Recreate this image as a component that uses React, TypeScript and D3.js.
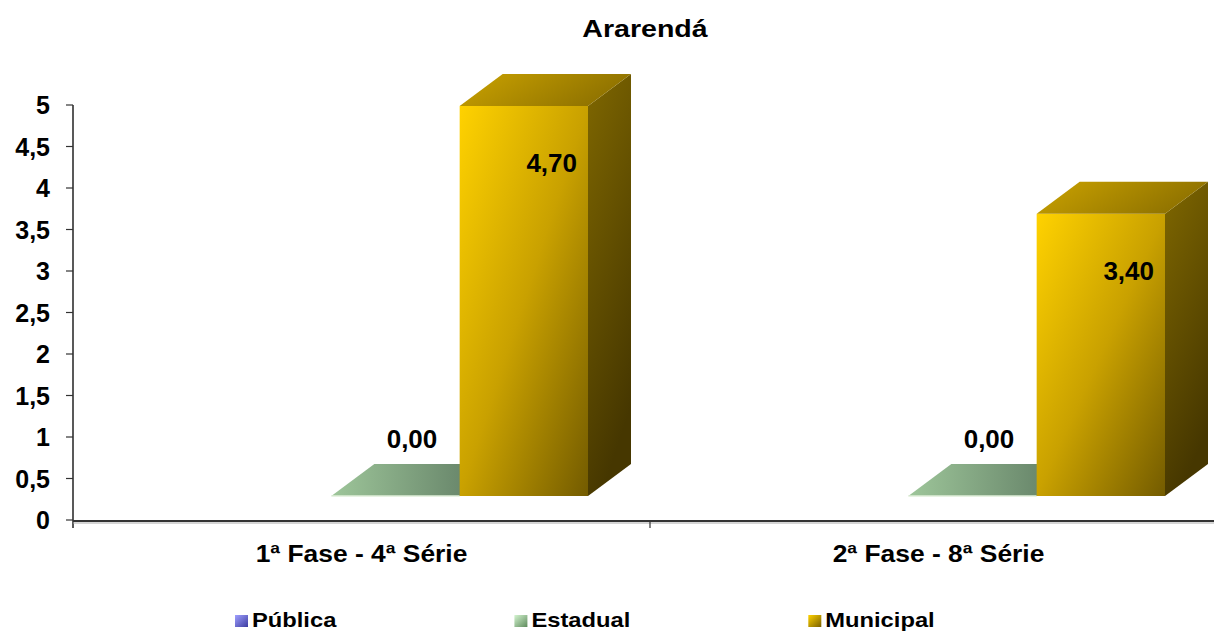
import React from "react";
import * as d3 from "d3";

const title = "Ararendá";
const categories = ["1ª Fase - 4ª Série", "2ª Fase - 8ª Série"];
const seriesNames = ["Pública", "Estadual", "Municipal"];
const publicaValues: (number | null)[] = [null, null];
const estadualValues: (number | null)[] = [0, 0];
const municipalValues: (number | null)[] = [4.7, 3.4];
const yTicks = [0, 0.5, 1, 1.5, 2, 2.5, 3, 3.5, 4, 4.5, 5];

const W = 1214;
const H = 632;
const FONT = "'Liberation Sans', Arial, sans-serif";

const seriesValues = [publicaValues, estadualValues, municipalValues];

const fmt = (v: number) => v.toFixed(2).replace(".", ",");
const fmtTick = (v: number) => String(v).replace(".", ",");

function measure(text: string, font: string) {
  if (typeof document === "undefined") return text.length * 10;
  const c = document.createElement("canvas");
  const ctx = c.getContext("2d")!;
  ctx.font = font;
  return ctx.measureText(text).width;
}

export default function App() {
  const y = d3.scaleLinear().domain([0, 5]).range([520, 105]);
  const x = d3.scaleBand<string>().domain(categories).range([73, 1227]).padding(0);
  const xs = d3.scaleBand<string>().domain(seriesNames).range([130, 515]).padding(0);
  const dx = 43;
  const dy = -32;
  const floorShift = -24;
  const by = (v: number) => y(v) + floorShift;

  const legendStretch = 1.13;
  let lx = 235;
  const legendItems = seriesNames.map((name) => {
    const tw = measure(name, `bold 21px 'Liberation Sans'`) * legendStretch;
    const item = { name, x: lx, tw };
    lx = lx + 17 + tw + 178;
    return item;
  });

  const frontGrad = ["frontP", "frontE", "frontM"];
  const sideGrad = ["sideP", "sideE", "sideM"];
  const topGrad = ["topP", "topE", "topM"];
  const legGrad = ["legP", "legE", "legM"];

  const bars: React.ReactNode[] = [];
  const labels: React.ReactNode[] = [];
  categories.forEach((cat, ci) => {
    seriesNames.forEach((s, si) => {
      const v = seriesValues[si][ci];
      if (v === null || v === undefined) return;
      const x0 = (x(cat) as number) + (xs(s) as number);
      const w = xs.bandwidth();
      const x1 = x0 + w;
      const yb = by(0);
      const yt = by(v);
      const key = `${ci}-${si}`;
      const top = `M${x0},${yt}L${x1},${yt}L${x1 + dx},${yt + dy}L${x0 + dx},${yt + dy}Z`;
      const side = `M${x1},${yt}L${x1 + dx},${yt + dy}L${x1 + dx},${yb + dy}L${x1},${yb}Z`;
      bars.push(
        <g key={key}>
          {yb - yt > 0.5 && (
            <rect x={x0} y={yt} width={w} height={yb - yt} fill={`url(#${frontGrad[si]})`} />
          )}
          {yb - yt > 0.5 && <path d={side} fill={`url(#${sideGrad[si]})`} />}
          <path d={top} fill={`url(#${topGrad[si]})`} />
          {yb - yt <= 0.5 && (
            <line x1={x0} x2={x1} y1={yb} y2={yb} stroke="#dfeed8" strokeWidth={1.5} />
          )}
        </g>
      );
      if (yb - yt > 60) {
        labels.push(
          <text key={"l" + key} x={x1 - 11} y={yt + 66} textAnchor="end" fontSize={26} fontWeight="bold" fontFamily={FONT} fill="#000">
            {fmt(v)}
          </text>
        );
      } else {
        labels.push(
          <text key={"l" + key} x={x0 + w / 2 + dx / 2 - 5} y={yt + dy - 16} textAnchor="middle" fontSize={26} fontWeight="bold" fontFamily={FONT} fill="#000">
            {fmt(v)}
          </text>
        );
      }
    });
  });

  return (
    <svg width={W} height={H} style={{ position: "absolute", left: 0, top: 0, background: "#fff" }}>
      <defs>
        <linearGradient id="frontM" x1="0" y1="0" x2="1" y2="1">
          <stop offset="0" stopColor="#ffd200" />
          <stop offset="0.5" stopColor="#c9a100" />
          <stop offset="1" stopColor="#735b00" />
        </linearGradient>
        <linearGradient id="sideM" x1="0" y1="0" x2="0.3" y2="1">
          <stop offset="0" stopColor="#7f6700" />
          <stop offset="1" stopColor="#463700" />
        </linearGradient>
        <linearGradient id="topM" x1="0" y1="0" x2="1" y2="0.3">
          <stop offset="0" stopColor="#cba300" />
          <stop offset="1" stopColor="#8f7200" />
        </linearGradient>
        <linearGradient id="frontE" x1="0" y1="0" x2="1" y2="1">
          <stop offset="0" stopColor="#a0c89c" />
          <stop offset="1" stopColor="#577158" />
        </linearGradient>
        <linearGradient id="sideE" x1="0" y1="0" x2="0" y2="1">
          <stop offset="0" stopColor="#5a755c" />
          <stop offset="1" stopColor="#3e513f" />
        </linearGradient>
        <linearGradient id="topE" x1="0" y1="0.5" x2="1" y2="0.5">
          <stop offset="0" stopColor="#9ec69a" />
          <stop offset="1" stopColor="#5a755e" />
        </linearGradient>
        <linearGradient id="frontP" x1="0" y1="0" x2="1" y2="1">
          <stop offset="0" stopColor="#9999ff" />
          <stop offset="1" stopColor="#333399" />
        </linearGradient>
        <linearGradient id="sideP" x1="0" y1="0" x2="0" y2="1">
          <stop offset="0" stopColor="#444499" />
          <stop offset="1" stopColor="#222266" />
        </linearGradient>
        <linearGradient id="topP" x1="0" y1="0.5" x2="1" y2="0.5">
          <stop offset="0" stopColor="#8888dd" />
          <stop offset="1" stopColor="#444499" />
        </linearGradient>
        <linearGradient id="legP" x1="0" y1="0" x2="1" y2="1">
          <stop offset="0" stopColor="#a0a0ff" />
          <stop offset="1" stopColor="#3c3ca0" />
        </linearGradient>
        <linearGradient id="legE" x1="0" y1="0" x2="1" y2="1">
          <stop offset="0" stopColor="#d4f5d0" />
          <stop offset="1" stopColor="#5e8a5c" />
        </linearGradient>
        <linearGradient id="legM" x1="0" y1="0" x2="1" y2="1">
          <stop offset="0" stopColor="#ffd200" />
          <stop offset="1" stopColor="#7a6000" />
        </linearGradient>
      </defs>

      <text
        transform={`translate(${W / 2 + 38},37) scale(1.19,1)`}
        textAnchor="middle"
        fontSize={24}
        fontWeight="bold"
        fontFamily={FONT}
      >
        {title}
      </text>

      {/* Y axis */}
      <line x1={73} x2={73} y1={105} y2={528} stroke="#222" strokeWidth={1.5} />
      {yTicks.map((t) => (
        <g key={t}>
          <line x1={66} x2={73} y1={y(t)} y2={y(t)} stroke="#333" strokeWidth={1.2} />
          <text x={50} y={y(t)} dy="0.36em" textAnchor="end" fontSize={25} fontWeight="bold" fontFamily={FONT}>
            {fmtTick(t)}
          </text>
        </g>
      ))}

      {bars}

      {/* X axis */}
      <line x1={73} x2={W} y1={521} y2={521} stroke="#333" strokeWidth={2} />
      <line x1={73} x2={W} y1={523} y2={523} stroke="#aaa" strokeWidth={1} />
      {categories.slice(1).map((c) => (
        <line key={c} x1={x(c) as number} x2={x(c) as number} y1={521} y2={528} stroke="#333" strokeWidth={1.2} />
      ))}
      {categories.map((c) => (
        <text
          key={c}
          transform={`translate(${(x(c) as number) + x.bandwidth() / 2},562) scale(1.1,1)`}
          textAnchor="middle"
          fontSize={24}
          fontWeight="bold"
          fontFamily={FONT}
        >
          {c}
        </text>
      ))}

      {labels}

      {/* Legend */}
      {legendItems.map((it, i) => (
        <g key={it.name}>
          <rect x={it.x} y={615} width={13} height={12} fill={`url(#${legGrad[i]})`} />
          <text
            transform={`translate(${it.x + 17},627) scale(${legendStretch},1)`}
            fontSize={21}
            fontWeight="bold"
            fontFamily={FONT}
          >
            {it.name}
          </text>
        </g>
      ))}
    </svg>
  );
}
